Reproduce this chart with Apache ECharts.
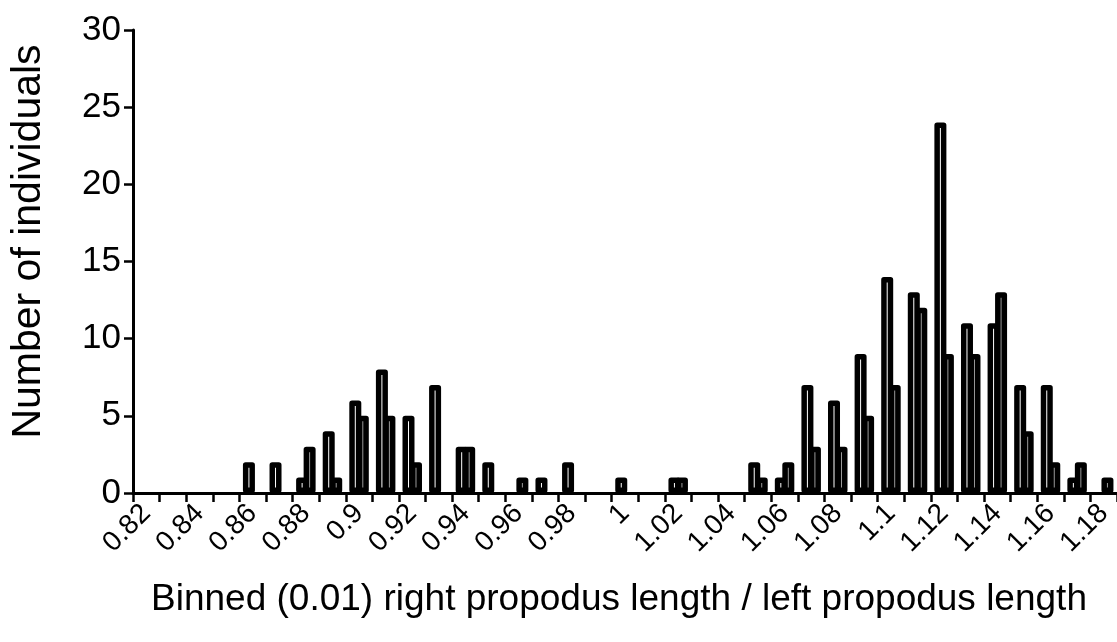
<!DOCTYPE html>
<html>
<head>
<meta charset="utf-8">
<script src="https://cdn.jsdelivr.net/npm/echarts@6/dist/echarts.min.js"></script>
<style>
html,body{margin:0;padding:0;background:#fff;}
#chart{width:1117px;height:642px;}
</style>
</head>
<body>
<div id="chart"></div>
<script>
var categories = [0.82,0.83,0.84,0.85,0.86,0.87,0.88,0.89,0.9,0.91,0.92,0.93,0.94,0.95,0.96,0.97,0.98,0.99,1,1.01,1.02,1.03,1.04,1.05,1.06,1.07,1.08,1.09,1.1,1.11,1.12,1.13,1.14,1.15,1.16,1.17,1.18];
var seriesA = [0,0,0,0,2,2,1,4,6,8,5,7,3,2,0,1,2,0,1,0,1,0,0,2,1,7,6,9,14,13,24,11,11,7,7,1,0];
var seriesB = [0,0,0,0,0,0,3,1,5,5,2,0,3,0,1,0,0,0,0,0,1,0,0,1,2,3,3,5,7,12,9,9,13,4,2,2,1];
var yTicks = [0,5,10,15,20,25,30];

var FONT = "'Liberation Sans', Arial, sans-serif";
var chart = echarts.init(document.getElementById('chart'), null, {renderer:'canvas'});
var barStyle = function(fill){
  return {color: fill, borderColor:'#000', borderWidth:5.5, borderJoin:'round'};
};
// empty bins (count 0) are drawn as no bar
var toBars = function(arr){ return arr.map(function(v){ return v === 0 ? null : v; }); };
chart.setOption({
  animation:false,
  backgroundColor:'#fff',
  grid:{left:130, right:-5, top:30, bottom:149, containLabel:false},
  xAxis:{
    type:'category',
    data:categories.map(function(v){return String(v);}),
    boundaryGap:true,
    name:'Binned (0.01) right propodus length / left propodus length',
    nameLocation:'middle',
    nameGap:88,
    nameTextStyle:{fontFamily:FONT, fontSize:37, color:'#000', padding:[0,12,0,0]},
    axisLine:{show:true, lineStyle:{color:'#000', width:3}},
    axisTick:{show:true, interval:0, length:9, lineStyle:{color:'#000', width:2.5}},
    axisLabel:{interval:1, rotate:45, fontFamily:FONT, fontSize:28, color:'#000', margin:16},
    splitLine:{show:false}
  },
  yAxis:{
    type:'value',
    min:yTicks[0], max:yTicks[yTicks.length-1], interval:5,
    name:'Number of individuals',
    nameLocation:'middle',
    nameGap:84,
    nameTextStyle:{fontFamily:FONT, fontSize:41, color:'#000', padding:[0,0,0,40]},
    axisLine:{show:true, lineStyle:{color:'#000', width:3}},
    axisTick:{show:true, length:9, lineStyle:{color:'#000', width:2.5}},
    axisLabel:{fontFamily:FONT, fontSize:35, color:'#000', margin:12},
    splitLine:{show:false}
  },
  series:[
    {type:'bar', data:toBars(seriesA), barWidth:12, barGap:'-37.5%', itemStyle:barStyle('#ffffff')},
    {type:'bar', data:toBars(seriesB), barWidth:12, barGap:'-37.5%', itemStyle:barStyle('#999999')}
  ]
});
</script>
</body>
</html>
